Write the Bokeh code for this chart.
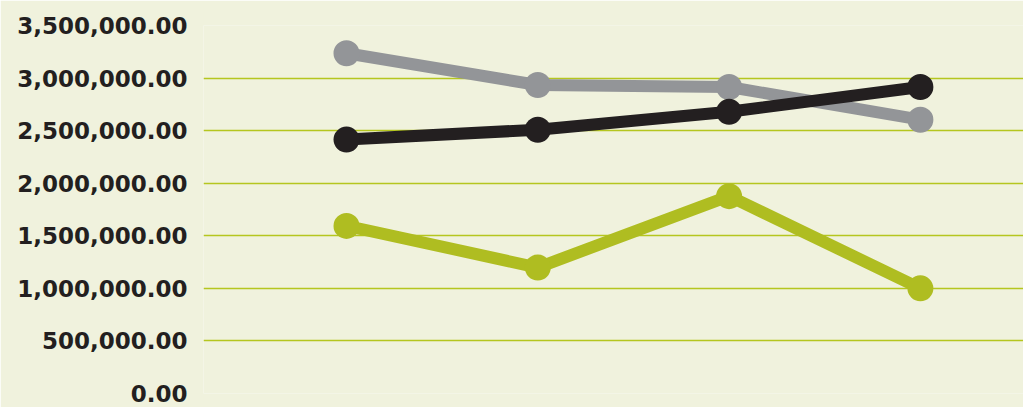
from bokeh.plotting import figure
from bokeh.models import Range1d, FixedTicker, NumeralTickFormatter
from bokeh.embed import file_html
from bokeh.resources import INLINE

# ---- data ----
positions = [1, 2, 3, 4]
series_gray = [3236000, 2934000, 2915000, 2604000]
series_black = [2415000, 2509000, 2679000, 2915000]
series_green = [1594000, 1198000, 1877000, 1000000]
y_ticks = [0, 500000, 1000000, 1500000, 2000000, 2500000, 3000000, 3500000]

BG = "#f0f2dd"
GRID = "#b5c61f"
TEXT = "#231f20"

p = figure(width=1023, height=407, output_backend="svg", toolbar_location=None,
           x_range=Range1d(0.2525, 4.539), y_range=Range1d(0, 3500000),
           min_border_left=203, min_border_right=0, min_border_top=25,
           min_border_bottom=14)
p.background_fill_color = BG
p.border_fill_color = BG
p.outline_line_color = None

p.xaxis.visible = False
p.xgrid.grid_line_color = None
p.ygrid.grid_line_color = GRID
p.ygrid.grid_line_width = 1.5

ax = p.yaxis[0]
ax.ticker = FixedTicker(ticks=y_ticks)
ax.formatter = NumeralTickFormatter(format="0,0.00")
ax.axis_line_color = None
ax.major_tick_line_color = None
ax.minor_tick_line_color = None
ax.major_label_standoff = 10
ax.major_label_text_font = "DejaVu Sans"
ax.major_label_text_font_style = "bold"
ax.major_label_text_font_size = "23px"
ax.major_label_text_color = TEXT

for ys, col in [(series_gray, "#939598"), (series_black, "#231f20"), (series_green, "#afbd21")]:
    p.line(positions, ys, line_color=col, line_width=12)
    p.scatter(positions, ys, size=26, fill_color=col, line_color=None)

open("out.html", "w").write(file_html(p, INLINE))
